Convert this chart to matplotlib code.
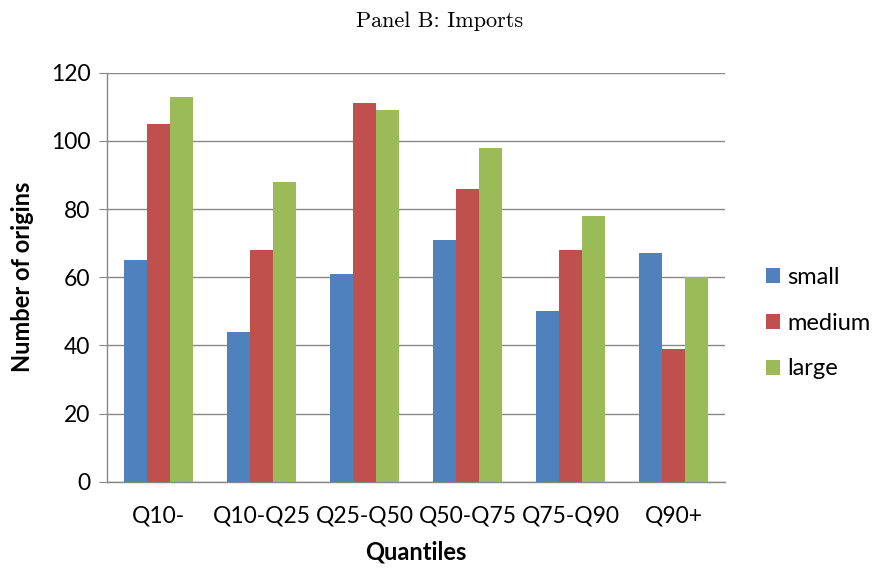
import matplotlib
matplotlib.use('agg')
from matplotlib import pyplot as plt
import numpy as np

quantiles = ['Q10-', 'Q10-Q25', 'Q25-Q50', 'Q50-Q75', 'Q75-Q90', 'Q90+']
small = [65, 44, 61, 71, 50, 67]
medium = [105, 68, 111, 86, 68, 39]
large = [113, 88, 109, 98, 78, 60]

series = [('small', small, '#4F81BD'),
          ('medium', medium, '#C0504D'),
          ('large', large, '#9BBB59')]

plt.rcParams['font.family'] = ['Lato', 'DejaVu Sans']

fig = plt.figure(figsize=(8.8, 5.69), dpi=100)
ax = fig.add_axes([0.1216, 0.1534, 0.7023, 0.7188])

x = np.arange(len(quantiles))
width = 0.222
for i, (name, vals, color) in enumerate(series):
    ax.bar(x + (i - 1) * width, vals, width, color=color, label=name, zorder=3)

ax.set_xlim(-0.5, len(quantiles) - 0.5)
ax.set_ylim(0, 120)
ax.set_yticks(range(0, 121, 20))
ax.set_xticks(x)
ax.set_xticklabels(quantiles)
ax.yaxis.grid(True, color='#888888', linewidth=1.0, zorder=0)

for side in ('top', 'right'):
    ax.spines[side].set_visible(False)
for side in ('left', 'bottom'):
    ax.spines[side].set_color('#888888')
    ax.spines[side].set_linewidth(1.0)

ax.tick_params(axis='y', length=6, color='#888888', labelsize=16.5, pad=6)
ax.tick_params(axis='x', length=0, labelsize=16.5, pad=17)

ax.set_ylabel('Number of origins', fontsize=17, fontweight='bold', labelpad=12)
ax.set_xlabel('Quantiles', fontsize=17, fontweight='bold', labelpad=10)

# Computer Modern title, as in the LaTeX document
fig.text(0.5, 0.962, 'Panel B: Imports', ha='center', va='center',
         fontsize=16, family='cmr10')

fig.legend(loc='center left', bbox_to_anchor=(0.846, 0.432), frameon=False,
           fontsize=17, handlelength=0.62, handleheight=0.62, handletextpad=0.3,
           labelspacing=1.05)

fig.savefig('out.png', dpi=100)
